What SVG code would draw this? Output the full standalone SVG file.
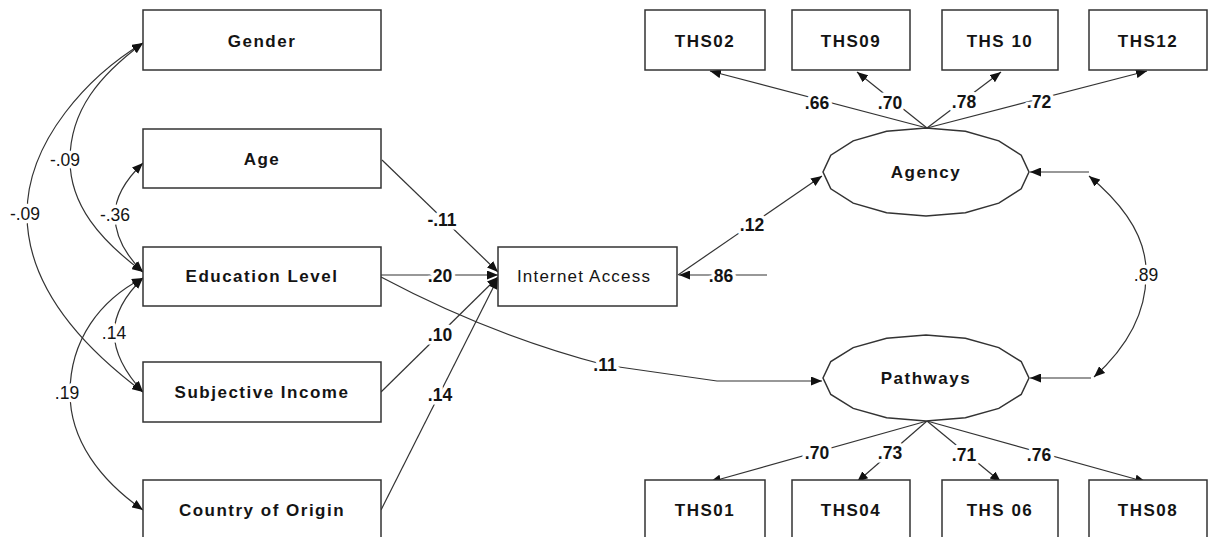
<svg xmlns="http://www.w3.org/2000/svg" width="1209" height="537" viewBox="0 0 1209 537">
<style>
.box{fill:#fff;stroke:#333;stroke-width:1.5}
.nt{font-family:"Liberation Sans",Arial,sans-serif;font-size:17px;font-weight:bold;fill:#141414;text-anchor:middle;letter-spacing:1.5px}
.nr{font-family:"Liberation Sans",Arial,sans-serif;font-size:17px;fill:#141414;text-anchor:middle;letter-spacing:1.2px}
.c{fill:none;stroke:#333;stroke-width:1.2}
.a{marker-end:url(#ah)}
.d{marker-start:url(#ah);marker-end:url(#ah)}
.lb{font-family:"Liberation Sans",Arial,sans-serif;font-size:17.5px;font-weight:bold;fill:#141414;text-anchor:middle;stroke:#fff;stroke-width:7px;paint-order:stroke;stroke-linejoin:round}
.lr{font-family:"Liberation Sans",Arial,sans-serif;font-size:17.5px;fill:#141414;text-anchor:middle;stroke:#fff;stroke-width:7px;paint-order:stroke;stroke-linejoin:round}
</style>
<defs>
<marker id="ah" markerUnits="userSpaceOnUse" markerWidth="11" markerHeight="9" refX="11" refY="4.5" orient="auto-start-reverse" viewBox="0 0 11 9">
<path d="M0,0 L11,4.5 L0,9 z" fill="#111"/>
</marker>
</defs>

<g id="connectors">
<!-- left correlations -->
<path class="c d" d="M143,43 C100,75 70,110 70,160 C70,205 100,240 143,272"/>
<path class="c d" d="M143,43 C90,75 27,140 27,214 C27,270 60,330 143,392"/>
<path class="c d" d="M143,163 Q115,190 115,215 Q115,245 143,272"/>
<path class="c d" d="M143,278 Q115,305 114,333 Q115,362 143,392"/>
<path class="c d" d="M143,278 C100,300 70,340 70,393 C70,440 100,480 143,510"/>
<!-- paths to Internet Access -->
<path class="c a" d="M382,160 L498,272"/>
<path class="c a" d="M381,275 L498,275"/>
<path class="c a" d="M381,392 L498,277"/>
<path class="c a" d="M381,510 L498,278"/>
<path class="c a" d="M381,277 Q490,335 605,365 L717,381 L822,381"/>
<path class="c a" d="M767,275 L679,275"/>
<path class="c a" d="M678,275 L822,176"/>
<!-- Agency loadings -->
<path class="c a" d="M927,128 L710,71"/>
<path class="c a" d="M927,128 L857,72"/>
<path class="c a" d="M927,128 L1001,72"/>
<path class="c a" d="M927,128 L1147,71"/>
<!-- Pathways loadings -->
<path class="c a" d="M927,421 L710,482"/>
<path class="c a" d="M927,421 L857,482"/>
<path class="c a" d="M927,421 L1001,482"/>
<path class="c a" d="M927,421 L1146,482"/>
<!-- latent correlation -->
<path class="c a" d="M1089,172 L1030,172"/>
<path class="c a" d="M1091,378 L1030,378"/>
<path class="c d" d="M1089,176 Q1148,225 1146,275 Q1146,330 1094,377"/>
<!-- labels -->
<text class="lr" x="65" y="166">-.09</text>
<text class="lr" x="25" y="220">-.09</text>
<text class="lr" x="115" y="221">-.36</text>
<text class="lr" x="114" y="339">.14</text>
<text class="lr" x="67" y="399">.19</text>
<text class="lb" x="442" y="226">-.11</text>
<text class="lb" x="440" y="282">.20</text>
<text class="lb" x="440" y="341">.10</text>
<text class="lb" x="440" y="401">.14</text>
<text class="lb" x="605" y="371">.11</text>
<text class="lb" x="721" y="282">.86</text>
<text class="lb" x="752" y="231">.12</text>
<text class="lb" x="817" y="109">.66</text>
<text class="lb" x="890" y="109">.70</text>
<text class="lb" x="964" y="108">.78</text>
<text class="lb" x="1039" y="108">.72</text>
<text class="lb" x="817" y="459">.70</text>
<text class="lb" x="890" y="459">.73</text>
<text class="lb" x="964" y="461">.71</text>
<text class="lb" x="1039" y="461">.76</text>
<text class="lr" x="1146" y="281">.89</text>
</g>

<g id="gender"><rect class="box" x="143" y="10" width="238" height="60"/><text class="nt" x="262" y="47">Gender</text></g>
<g id="age"><rect class="box" x="143" y="129" width="238" height="59"/><text class="nt" x="262" y="165">Age</text></g>
<g id="education"><rect class="box" x="143" y="247" width="238" height="59"/><text class="nt" x="262" y="282">Education Level</text></g>
<g id="income"><rect class="box" x="143" y="362" width="238" height="60"/><text class="nt" x="262" y="398">Subjective Income</text></g>
<g id="country"><rect class="box" x="143" y="480" width="238" height="62"/><text class="nt" x="262" y="516">Country of Origin</text></g>
<g id="internet"><rect class="box" x="498" y="247" width="179" height="59"/><text class="nr" x="584" y="282">Internet Access</text></g>

<g id="agency"><polygon class="box" points="1029,172 1021.2,188.8 998.8,203.1 965.4,212.7 926,216 886.6,212.7 853.2,203.1 830.8,188.8 823,172 830.8,155.2 853.2,140.9 886.6,131.3 926,128 965.4,131.3 998.8,140.9 1021.2,155.2"/><text class="nt" x="926" y="178">Agency</text></g>
<g id="pathways"><polygon class="box" points="1029,378 1021.2,394.5 998.8,408.4 965.4,417.7 926,421 886.6,417.7 853.2,408.4 830.8,394.5 823,378 830.8,361.5 853.2,347.6 886.6,338.3 926,335 965.4,338.3 998.8,347.6 1021.2,361.5"/><text class="nt" x="926" y="384">Pathways</text></g>

<g id="ths02"><rect class="box" x="645" y="10" width="120" height="60"/><text class="nt" x="705" y="47">THS02</text></g>
<g id="ths09"><rect class="box" x="792" y="10" width="118" height="60"/><text class="nt" x="851" y="47">THS09</text></g>
<g id="ths10"><rect class="box" x="942" y="10" width="116" height="60"/><text class="nt" x="1000" y="47">THS 10</text></g>
<g id="ths12"><rect class="box" x="1089" y="10" width="118" height="60"/><text class="nt" x="1148" y="47">THS12</text></g>

<g id="ths01"><rect class="box" x="645" y="480" width="120" height="62"/><text class="nt" x="705" y="516">THS01</text></g>
<g id="ths04"><rect class="box" x="792" y="480" width="118" height="62"/><text class="nt" x="851" y="516">THS04</text></g>
<g id="ths06"><rect class="box" x="942" y="480" width="116" height="62"/><text class="nt" x="1000" y="516">THS 06</text></g>
<g id="ths08"><rect class="box" x="1089" y="480" width="118" height="62"/><text class="nt" x="1148" y="516">THS08</text></g>
</svg>
